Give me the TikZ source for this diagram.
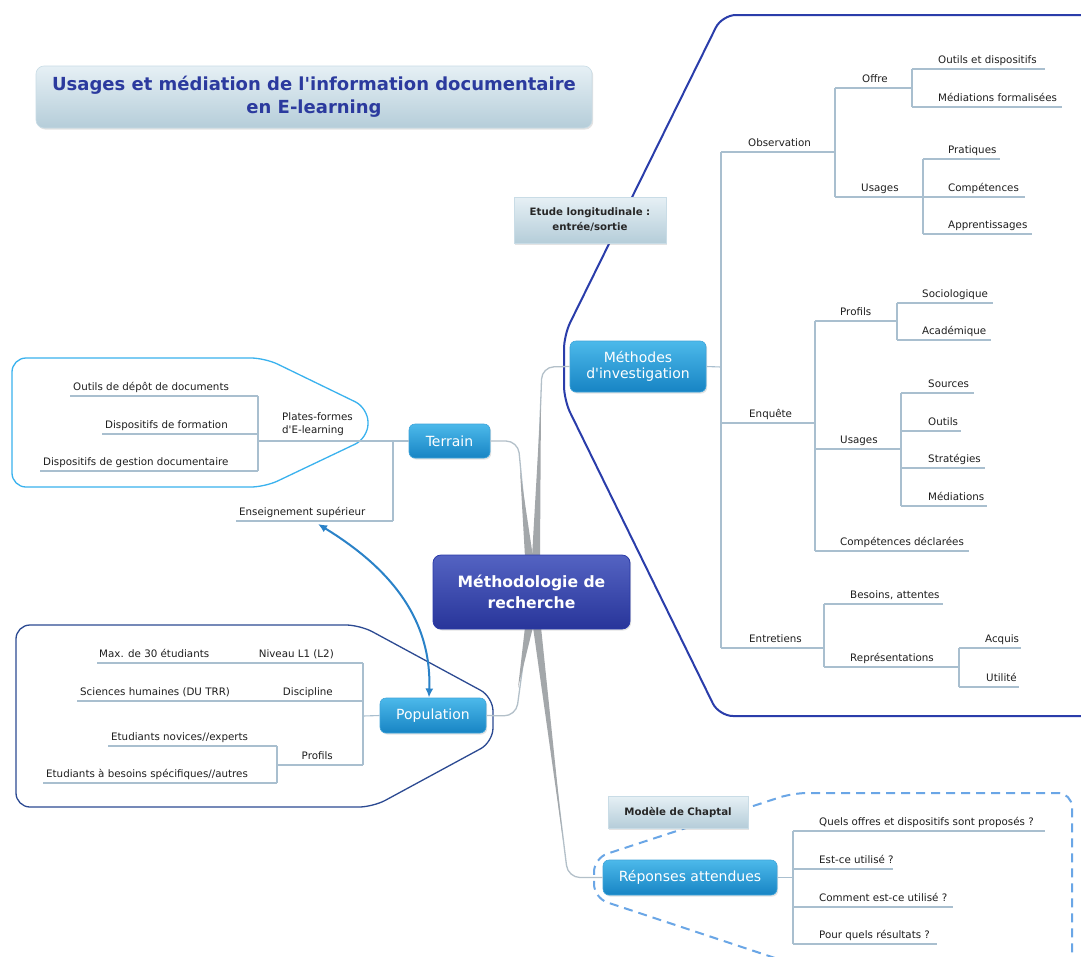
\documentclass[tikz,border=0pt]{standalone}
\usepackage{fontspec}
\setmainfont{DejaVu Sans}
\newfontfamily\dvs{DejaVu Sans}
\usetikzlibrary{arrows.meta,shadows}
\newcommand{\sq}{\char"27\relax}
\definecolor{ulc}{HTML}{A9BFCF}
\definecolor{lblc}{HTML}{1E1E1E}
\definecolor{nbtop}{HTML}{4CB9EA}
\definecolor{nbbot}{HTML}{1784C4}
\definecolor{nbdraw}{HTML}{3FA4DA}
\definecolor{ctop}{HTML}{5463C2}
\definecolor{cbot}{HTML}{28359A}
\definecolor{cdraw}{HTML}{2A3AA8}
\definecolor{ttop}{HTML}{E6F0F5}
\definecolor{tbot}{HTML}{B5CDD9}
\definecolor{tdraw}{HTML}{C9DCE6}
\definecolor{titlec}{HTML}{2B3A9E}
\definecolor{methb}{HTML}{2A3DAA}
\definecolor{terrb}{HTML}{3AB2EE}
\definecolor{popb}{HTML}{2C4A92}
\definecolor{repb}{HTML}{6AA6E6}
\definecolor{arrc}{HTML}{2A82C8}
\definecolor{trunk}{HTML}{A3A7AA}
\definecolor{trunkl}{HTML}{B3C0C9}
\begin{document}
\dvs
\begin{tikzpicture}[x=1pt,y=-1pt,
  lbl/.style={font=\dvs\fontsize{10.3}{13}\selectfont, text=lblc, inner sep=0pt},
  uline/.style={draw=ulc, line width=1.1pt},
  shad/.style={drop shadow={opacity=0.22, shadow xshift=1.2pt, shadow yshift=-1.5pt}},
  bluebox/.style={shad, rounded corners=6pt, top color=nbtop, bottom color=nbbot, draw=nbdraw, line width=0.6pt, text=white, font=\dvs\fontsize{14}{16}\selectfont, align=center, inner sep=0pt},
  lightbox/.style={shad, top color=ttop, bottom color=tbot, draw=tdraw, line width=0.6pt, text=black!85, font=\dvs\bfseries\fontsize{10.2}{15}\selectfont, align=center, inner sep=0pt},
  trunkline/.style={draw=trunkl, line width=1.3pt, rounded corners=12pt}
]
\useasboundingbox (0,0) rectangle (1081,956);
\fill[white] (0,0) rectangle (1081,956);

% ---------- boundaries ----------
\draw[methb, line width=2pt, rounded corners=14pt] (1090,15) -- (722,15) -- (564,335) -- (564,400) -- (719,716) -- (1090,716);
\draw[terrb, line width=1.3pt, rounded corners=14pt] (12,358) -- (265,358) -- (368,408) -- (368,438) -- (265,487) -- (12,487) -- cycle;
\draw[popb, line width=1.3pt, rounded corners=14pt] (16,625) -- (360,625) -- (493,697) -- (493,742) -- (373,807) -- (16,807) -- cycle;
\draw[repb, line width=2pt, dash pattern=on 9pt off 6pt, rounded corners=14pt] (775,958) -- (594,898) -- (594,858) -- (793,793) -- (1072,793) -- (1072,958);

% ---------- boxes ----------
\node[shad, rounded corners=8pt, top color=ttop, bottom color=tbot, draw=tdraw, line width=0.6pt, minimum width=556pt, minimum height=62pt, inner sep=0pt, align=center, text=titlec, font=\dvs\bfseries\fontsize{18}{23}\selectfont] (title) at (314,97) {Usages et médiation de l\sq information documentaire\\en E-learning};
\node[lightbox, minimum width=152pt, minimum height=46pt] (etude) at (590,220) {Etude longitudinale :\\entrée/sortie};
\node[lightbox, minimum width=140pt, minimum height=32pt] (chaptal) at (678,812) {Modèle de Chaptal};

\node[bluebox, minimum width=136pt, minimum height=51pt] (meth) at (638,366.5) {Méthodes\\d\sq investigation};
\node[bluebox, minimum width=81pt, minimum height=34pt] (terrain) at (449.5,441) {Terrain};
\node[bluebox, minimum width=106pt, minimum height=35pt] (pop) at (433,715.5) {Population};
\node[bluebox, minimum width=174pt, minimum height=35pt] (rep) at (690,877.5) {Réponses attendues};

% ---------- trunk connectors ----------
\draw[trunkline] (535,556) -- (542,367) -- (meth.west);
\draw[trunkline] (terrain.east) -- (518,441) -- (529,556);
\draw[trunkline] (pop.east) -- (516,716) -- (528,628);
\draw[trunkline] (537,628) -- (568,877.5) -- (rep.west);
\fill[trunk] (532,557) -- (540,557) -- (541,400) -- cycle;
\fill[trunk] (525,557) -- (533,557) -- (520,470) -- cycle;
\fill[trunk] (525,627) -- (533,627) -- (518,688) -- cycle;
\fill[trunk] (533,627) -- (541,627) -- (563,840) -- cycle;

\node[shad, rounded corners=8pt, top color=ctop, bottom color=cbot, draw=cdraw, line width=0.8pt, minimum width=197pt, minimum height=74pt, inner sep=0pt, align=center, text=white, font=\dvs\bfseries\fontsize{15.6}{21}\selectfont] (center) at (531.5,592) {Méthodologie de\\recherche};

% ---------- Méthodes d'investigation tree ----------
\draw[uline] (meth.east) -- (721,367);
\draw[uline] (721,152) -- (721,648);
\draw[uline] (721,152) -- (835,152);
\draw[uline] (835,88) -- (835,197);
\draw[uline] (835,88) -- (912,88);
\draw[uline] (912,69) -- (912,107);
\draw[uline] (912,69) -- (1045,69);
\draw[uline] (912,107) -- (1062,107);
\draw[uline] (835,197) -- (1025,197);
\draw[uline] (923,159) -- (923,234);
\draw[uline] (923,159) -- (1000,159);
\draw[uline] (923,234) -- (1032,234);
\node[lbl,anchor=base west] (obs) at (748,146) {Observation};
\node[lbl,anchor=base west] (offre) at (862,82) {Offre};
\node[lbl,anchor=base west] (outdisp) at (938,63) {Outils et dispositifs};
\node[lbl,anchor=base west] (medform) at (938,101) {Médiations formalisées};
\node[lbl,anchor=base west] (usobs) at (861,191) {Usages};
\node[lbl,anchor=base west] (prat) at (948,153) {Pratiques};
\node[lbl,anchor=base west] (compobs) at (948,191) {Compétences};
\node[lbl,anchor=base west] (appr) at (948,228) {Apprentissages};

\draw[uline] (721,423) -- (815,423);
\draw[uline] (815,321) -- (815,551);
\draw[uline] (815,321) -- (897,321);
\draw[uline] (897,303) -- (897,340);
\draw[uline] (897,303) -- (993,303);
\draw[uline] (897,340) -- (991,340);
\draw[uline] (815,449) -- (901,449);
\draw[uline] (901,393) -- (901,506);
\draw[uline] (901,393) -- (974,393);
\draw[uline] (901,431) -- (961,431);
\draw[uline] (901,468) -- (985,468);
\draw[uline] (901,506) -- (987,506);
\draw[uline] (815,551) -- (969,551);
\node[lbl,anchor=base west] (enq) at (749,417) {Enquête};
\node[lbl,anchor=base west] (profE) at (840,315) {Profils};
\node[lbl,anchor=base west] (socio) at (922,297) {Sociologique};
\node[lbl,anchor=base west] (acad) at (922,334) {Académique};
\node[lbl,anchor=base west] (usE) at (840,443) {Usages};
\node[lbl,anchor=base west] (sources) at (928,387) {Sources};
\node[lbl,anchor=base west] (outils) at (928,425) {Outils};
\node[lbl,anchor=base west] (strat) at (928,462) {Stratégies};
\node[lbl,anchor=base west] (medE) at (928,500) {Médiations};
\node[lbl,anchor=base west] (compdecl) at (840,545) {Compétences déclarées};

\draw[uline] (721,648) -- (824,648);
\draw[uline] (824,604) -- (824,667);
\draw[uline] (824,604) -- (943,604);
\draw[uline] (824,667) -- (959,667);
\draw[uline] (959,648) -- (959,687);
\draw[uline] (959,648) -- (1021,648);
\draw[uline] (959,687) -- (1019,687);
\node[lbl,anchor=base west] (entr) at (749,642) {Entretiens};
\node[lbl,anchor=base west] (besoins) at (850,598) {Besoins, attentes};
\node[lbl,anchor=base west] (repres) at (850,661) {Représentations};
\node[lbl,anchor=base west] (acquis) at (985,642) {Acquis};
\node[lbl,anchor=base west] (util) at (986,681) {Utilité};

% ---------- Terrain tree ----------
\draw[uline] (terrain.west) -- (393,441);
\draw[uline] (393,441) -- (393,521);
\draw[uline] (258,441) -- (393,441);
\draw[uline] (236,521) -- (393,521);
\draw[uline] (258,396) -- (258,471);
\draw[uline] (70,396) -- (258,396);
\draw[uline] (102,434) -- (258,434);
\draw[uline] (40,471) -- (258,471);
\node[lbl,anchor=west,align=left] (plat) at (282,424) {Plates-formes\\d\sq E-learning};
\node[lbl,anchor=base west] (odd) at (73,390) {Outils de dépôt de documents};
\node[lbl,anchor=base west] (dform) at (105,428) {Dispositifs de formation};
\node[lbl,anchor=base west] (dgest) at (43,465) {Dispositifs de gestion documentaire};
\node[lbl,anchor=base west] (ens) at (239,515) {Enseignement supérieur};

% ---------- Population tree ----------
\draw[uline] (pop.west) -- (363,716);
\draw[uline] (363,663) -- (363,765);
\draw[uline] (97,663) -- (363,663);
\draw[uline] (77,701) -- (363,701);
\draw[uline] (277,765) -- (363,765);
\draw[uline] (277,746) -- (277,783);
\draw[uline] (108,746) -- (277,746);
\draw[uline] (43,783) -- (277,783);
\node[lbl,anchor=base east] (niveau) at (334,657) {Niveau L1 (L2)};
\node[lbl,anchor=base west] (maxe) at (99,657) {Max. de 30 étudiants};
\node[lbl,anchor=base east] (disc) at (333,695) {Discipline};
\node[lbl,anchor=base west] (sci) at (80,695) {Sciences humaines (DU TRR)};
\node[lbl,anchor=base east] (profP) at (333,759) {Profils};
\node[lbl,anchor=base west] (nov) at (111,740) {Etudiants novices//experts};
\node[lbl,anchor=base west] (besP) at (46,777) {Etudiants à besoins spécifiques//autres};

% ---------- Réponses tree ----------
\draw[uline] (rep.east) -- (793,877.5);
\draw[uline] (793,831) -- (793,944);
\draw[uline] (793,831) -- (1045,831);
\draw[uline] (793,869) -- (893,869);
\draw[uline] (793,907) -- (953,907);
\draw[uline] (793,944) -- (937,944);
\node[lbl,anchor=base west] (q1) at (819,825) {Quels offres et dispositifs sont proposés ?};
\node[lbl,anchor=base west] (q2) at (819,863) {Est-ce utilisé ?};
\node[lbl,anchor=base west] (q3) at (819,901) {Comment est-ce utilisé ?};
\node[lbl,anchor=base west] (q4) at (819,938) {Pour quels résultats ?};

% ---------- relation arrow ----------
\coordinate (arrS) at (318,524);
\coordinate (arrE) at (429,697.5);
\draw[arrc, line width=2pt, {Latex[length=9pt,width=8pt]}-{Latex[length=9pt,width=8pt]}] (arrS) .. controls (385,565) and (432,615) .. (arrE);
\end{tikzpicture}
\end{document}
